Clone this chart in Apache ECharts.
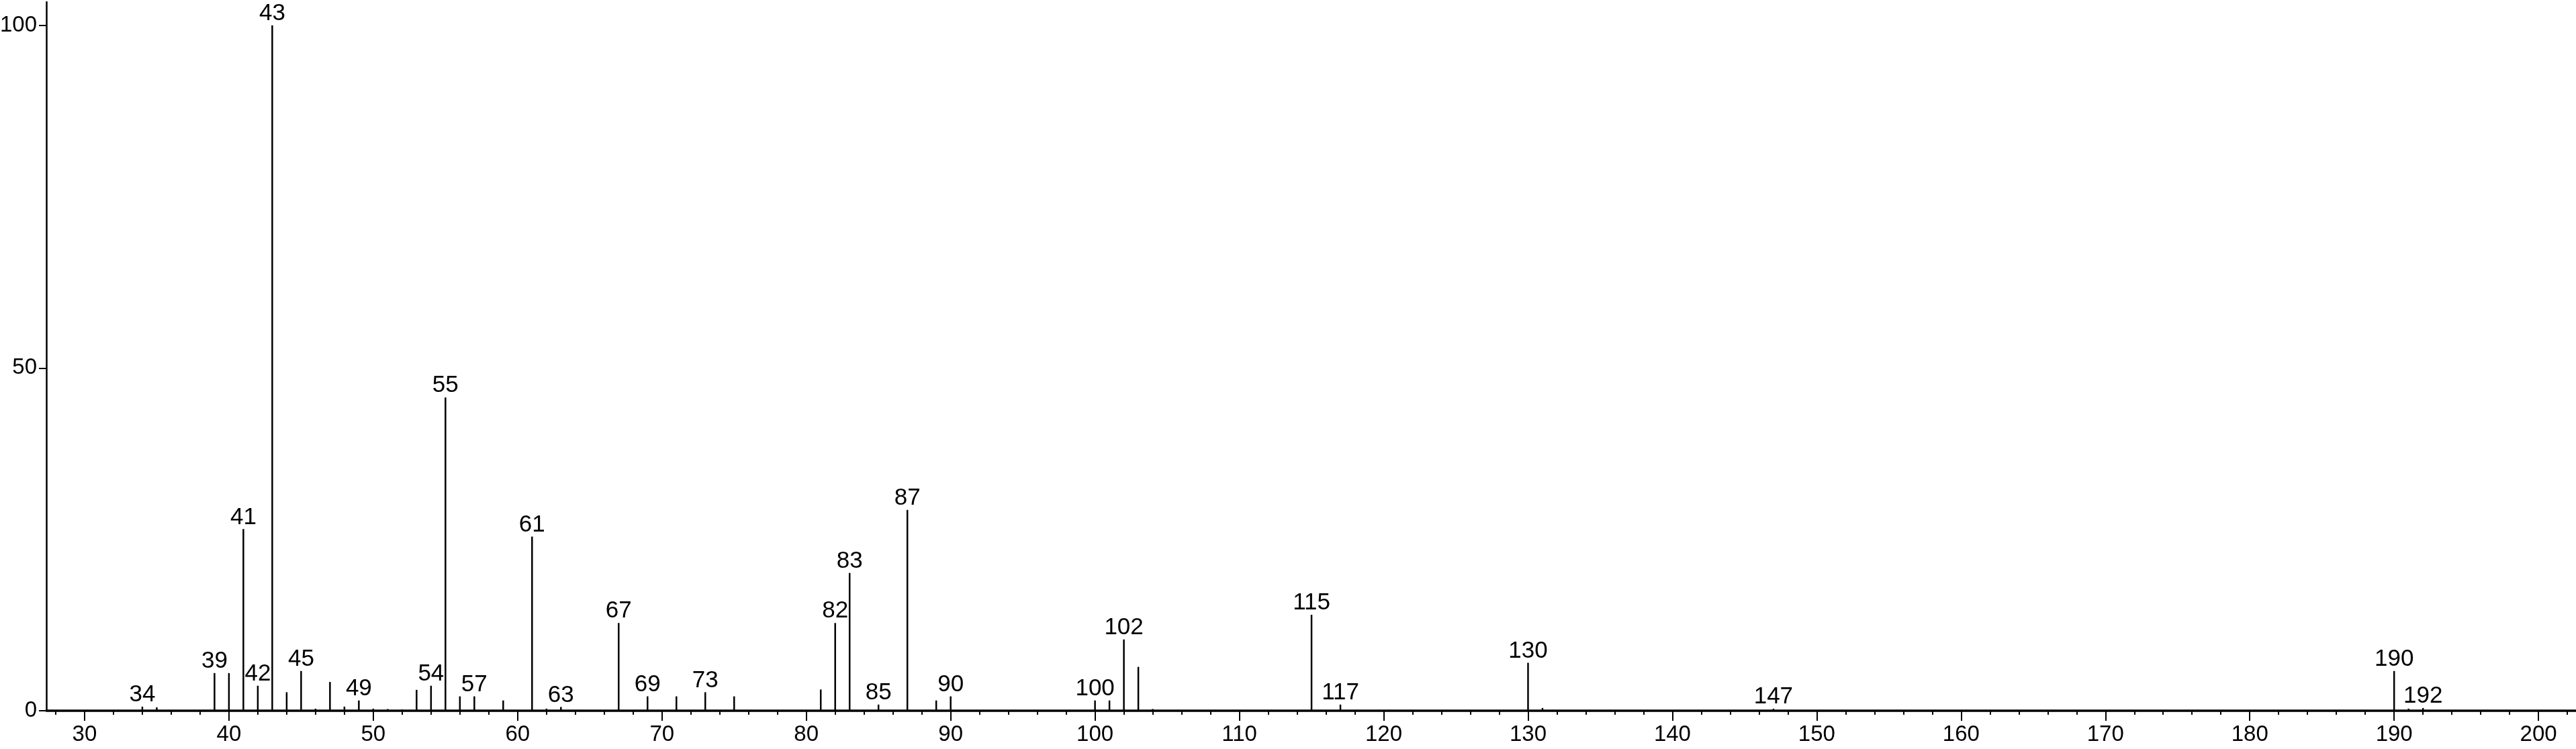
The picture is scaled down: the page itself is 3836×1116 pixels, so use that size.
<!DOCTYPE html>
<html>
<head>
<meta charset="utf-8">
<script src="https://cdn.jsdelivr.net/npm/echarts@6.0.0/dist/echarts.min.js"></script>
<style>
html,body{margin:0;padding:0;background:#fff;}
#chart{width:3836px;height:1116px;}
</style>
</head>
<body>
<div id="chart"></div>
<script>
// m/z values of the peaks
const mz = [34,35,39,40,41,42,43,44,45,46,47,48,49,50,51,52,53,54,55,56,57,59,61,62,63,67,69,71,73,75,81,82,83,85,87,89,90,100,101,102,103,104,115,117,130,131,147,190,191,192];
// relative intensities (%)
const intensity = [0.6,0.5,5.5,5.5,26.5,3.65,100,2.7,5.8,0.3,4.2,0.6,1.5,0.3,0.25,0.2,3.05,3.65,45.7,2.1,2.1,1.5,25.4,0.3,0.55,12.8,2.1,2.1,2.7,2.1,3.1,12.8,20.1,0.9,29.3,1.5,2.1,1.5,1.5,10.4,6.4,0.25,14.0,0.9,7.0,0.4,0.3,5.8,0.3,0.4];
// peaks carrying an m/z label
const labeledPeaks = [34,39,41,42,43,45,49,54,55,57,61,63,67,69,73,82,83,85,87,90,100,102,115,117,130,147,190,192];
// axis ticks
const xMajorTicks = [30,40,50,60,70,80,90,100,110,120,130,140,150,160,170,180,190,200];
const xMinorTicks = [28,32,34,36,38,42,44,46,48,52,54,56,58,62,64,66,68,72,74,76,78,82,84,86,88,92,94,96,98,102,104,106,108,112,114,116,118,122,124,126,128,132,134,136,138,142,144,146,148,152,154,156,158,162,164,166,168,172,174,176,178,182,184,186,188,192,194,196,198,202];
const yTicks = [0,50,100];

const FONT = 'Liberation Sans, Arial, Helvetica, sans-serif';
const data = mz.map((m, i) => ({
  value: [m, intensity[i]],
  label: { show: labeledPeaks.indexOf(m) >= 0 }
}));

const chart = echarts.init(document.getElementById('chart'), null, {renderer: 'canvas'});
chart.setOption({
  animation: false,
  backgroundColor: '#ffffff',
  grid: { left: 69, top: 3, right: 0, bottom: 57, containLabel: false, outerBoundsMode: 'none' },
  xAxis: [
    {
      type: 'value', min: 27.35, max: 202.6, position: 'bottom',
      axisLine: { show: true, onZero: false, lineStyle: { color: '#000', width: 3.5 } },
      axisTick: { show: true, customValues: xMajorTicks, length: 15, inside: false, lineStyle: { color: '#000', width: 2 } },
      axisLabel: { show: true, customValues: xMajorTicks, margin: 19, color: '#000', fontSize: 33, fontFamily: FONT },
      splitLine: { show: false }
    },
    {
      type: 'value', min: 27.35, max: 202.6, position: 'bottom',
      axisLine: { show: false, onZero: false },
      axisTick: { show: true, customValues: xMinorTicks, length: 6, inside: false, lineStyle: { color: '#000', width: 2 } },
      axisLabel: { show: false },
      splitLine: { show: false }
    }
  ],
  yAxis: {
    type: 'value', min: 0, max: 103.4,
    axisLine: { show: true, lineStyle: { color: '#000', width: 2.5 } },
    axisTick: { show: true, customValues: yTicks, length: 11, lineStyle: { color: '#000', width: 2 } },
    axisLabel: { show: true, customValues: yTicks, margin: 14, color: '#000', fontSize: 33, fontFamily: FONT },
    splitLine: { show: false }
  },
  series: [{
    type: 'bar',
    xAxisIndex: 0,
    barWidth: 2.5,
    itemStyle: { color: '#000' },
    label: {
      position: 'top', distance: 0, color: '#000', fontSize: 35, fontFamily: FONT,
      formatter: p => String(p.value[0])
    },
    data: data
  }]
});
</script>
</body>
</html>
